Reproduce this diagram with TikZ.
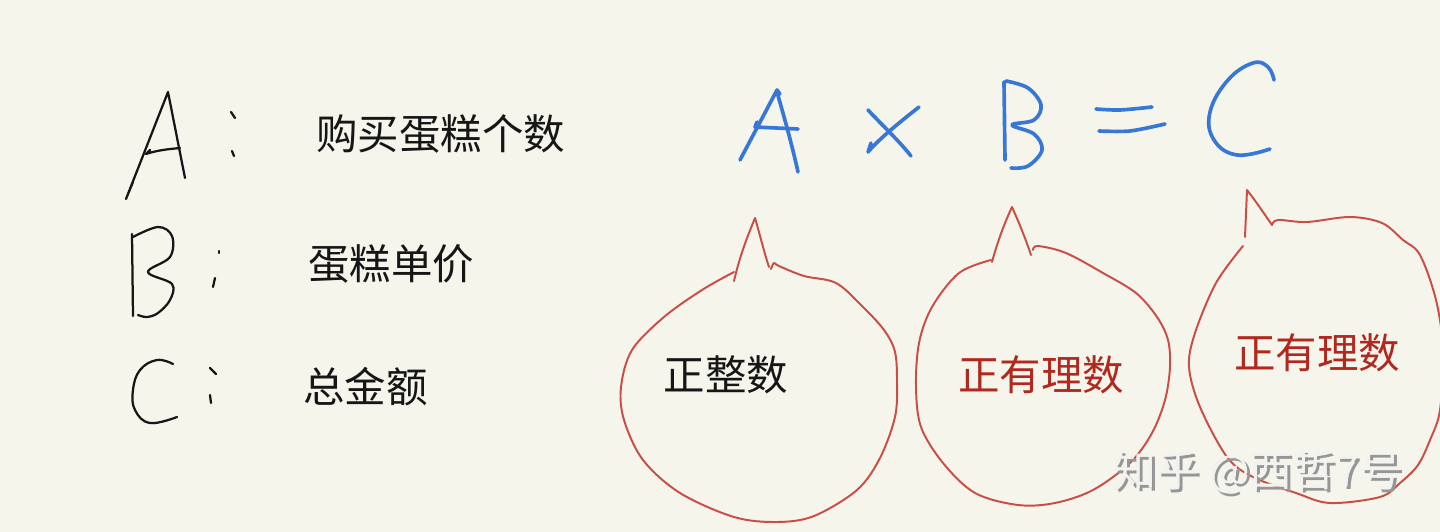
\documentclass[tikz,border=0pt]{standalone}
\usepackage{fontspec}
\newfontfamily\cjk{Noto Sans CJK SC}
\definecolor{bg}{RGB}{246,245,236}
\definecolor{pen}{RGB}{22,22,22}
\definecolor{bluepen}{RGB}{55,120,215}
\definecolor{redpen}{RGB}{203,78,70}
\definecolor{redtext}{RGB}{176,40,30}
\definecolor{wmshadow}{RGB}{150,150,150}
\definecolor{wmfill}{RGB}{242,242,240}
\begin{document}
\begin{tikzpicture}[x=0.025cm,y=-0.025cm,
  ink/.style={draw=pen, line width=1.6pt, line cap=round, line join=round},
  blueink/.style={draw=bluepen, line width=2.6pt, line cap=round, line join=round},
  redink/.style={draw=redpen, line width=1.4pt, line cap=round, line join=round},
  cjklabel/.style={font=\cjk\fontsize{29.5pt}{29.5pt}\selectfont, text=pen, inner sep=0pt},
  redlabel/.style={cjklabel, text=redtext},
  wm/.style={font=\cjk\fontsize{30.5pt}{30.5pt}\selectfont, inner sep=0pt}]
\fill[bg] (0,0) rectangle (1440,532);
\useasboundingbox (0,0) rectangle (1440,532);

% ---- left column: handwritten A, B, C ----
\draw[ink] (133,182) -- (126,199) -- (168,92) -- (185,178);
\draw[ink] (150,150) -- (146,154) .. controls (158,150) and (170,149) .. (180,148);
\draw[ink] (231,112) -- (235,118);
\draw[ink] (232,151) -- (234,156);

\draw[ink] (132,234) -- (133,316);
\draw[ink] plot[smooth, tension=0.6] coordinates {(133,237) (158,227) (172,236) (170,257) (148,272) (172,284) (170,300) (158,313) (147,317) (138,315)};
\draw[ink] (219,251) -- (219,253);
\draw[ink] (215,278) -- (213,287);

\draw[ink] plot[smooth, tension=0.7] coordinates {(173,364) (157,360) (140,370) (133,390) (135,410) (150,423) (177,417)};
\draw[ink] (210,368) -- (216,374);
\draw[ink] (210,395) -- (211,403);

\node[cjklabel, anchor=west] (tA) at (316,134) {购买蛋糕个数};
\node[cjklabel, anchor=west] (tB) at (308,264) {蛋糕单价};
\node[cjklabel, anchor=west] (tC) at (303,387) {总金额};

% ---- blue equation A x B = C ----
\draw[blueink] (740,160) -- (777,90) -- (780,94);
\draw[blueink] (777,92) .. controls (785,120) and (792,145) .. (798,172);
\draw[blueink] (757,122) -- (755,127) -- (798,129);
\draw[blueink] (868,110) .. controls (885,128) and (900,142) .. (911,156);
\draw[blueink] (919,107) .. controls (900,122) and (880,138) .. (868,152) -- (871,143);
\draw[blueink] (1004,82) -- (1005,160);
\draw[blueink] plot[smooth, tension=0.6] coordinates {(1006,81) (1028,88) (1041,105) (1034,120) (1012,125) (1034,134) (1042,150) (1028,166) (1011,168)};
\draw[blueink] plot[smooth] coordinates {(1096,109) (1120,110) (1152,107)};
\draw[blueink] plot[smooth] coordinates {(1099,131) (1130,131) (1165,124)};
\draw[blueink] plot[smooth, tension=0.7] coordinates {(1274,80) (1268,67) (1253,63) (1228,80) (1210,112) (1214,140) (1237,155) (1270,149)};

% ---- red bubbles ----
\draw[redink] (734,281) .. controls (740,255) and (748,235) .. (755,218) .. controls (760,235) and (764,252) .. (769,267);
\draw[redink] plot[smooth, tension=0.55] coordinates {(771,269) (774,263) (779,266) (804,276) (836,283) (862,306) (884,330) (895,352) (897,383) (895,417) (880,458) (857,490) (814,516) (777,522) (734,517) (680,493) (643,460) (624,420) (621,387) (632,350) (664,317) (702,290) (734,272)};

\draw[redink] (992,262) .. controls (998,240) and (1005,222) .. (1012,207) .. controls (1020,225) and (1026,240) .. (1031,255);
\draw[redink] plot[smooth, tension=0.55] coordinates {(1033,250) (1038,246) (1066,253) (1103,273) (1136,293) (1157,317) (1168,340) (1170,367) (1165,400) (1152,433) (1130,463) (1093,490) (1055,503) (1018,505) (975,493) (943,463) (921,427) (916,387) (919,343) (932,307) (959,273) (991,260)};

\draw[redink] (1245,237) -- (1247,190) .. controls (1255,200) and (1265,215) .. (1272,225);
\draw[redink] plot[smooth, tension=0.55] coordinates {(1272,225) (1278,220) (1307,222) (1350,217) (1382,223) (1403,240) (1420,255) (1436,300) (1443,350) (1440,410) (1430,440) (1418,465) (1400,483) (1380,497) (1330,503) (1296,493) (1253,477) (1227,457) (1200,407) (1189,367) (1195,333) (1216,283) (1243,246)};

\node[cjklabel] (b1) at (726,375) {正整数};
\node[redlabel] (b2) at (1041,375) {正有理数};
\node[redlabel] (b3) at (1317,353) {正有理数};

% ---- watermark ----
\node[wm, text=wmshadow] (wms) at (1261,475) {知乎 @西哲7号};
\node[wm, text=wmfill] (wmt) at (1258,472) {知乎 @西哲7号};
\end{tikzpicture}
\end{document}
